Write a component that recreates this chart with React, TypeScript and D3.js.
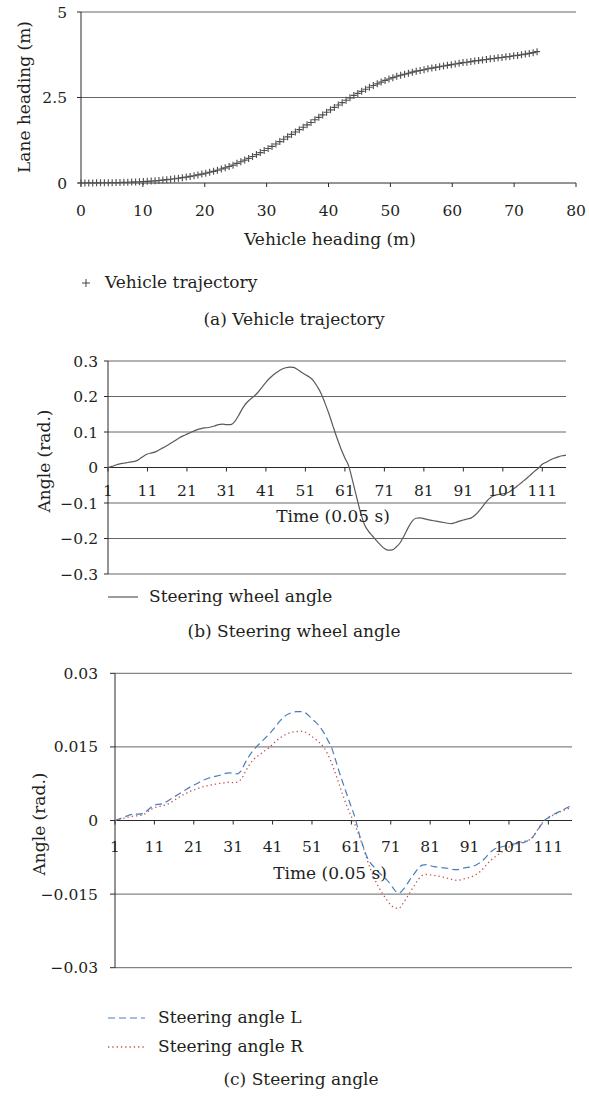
import React from "react";
import * as d3 from "d3";

// (a) vehicle trajectory: lateral vs longitudinal position (m)
const trajX = [
  0.0, 0.63, 1.26, 1.89, 2.52, 3.15, 3.78, 4.41, 5.04, 5.67, 6.3, 6.93, 7.56, 8.19, 8.82, 9.45,
  10.08, 10.71, 11.34, 11.97, 12.6, 13.23, 13.86, 14.49, 15.12, 15.75, 16.38, 17.01, 17.64, 18.27,
  18.9, 19.53, 20.16, 20.79, 21.42, 22.05, 22.68, 23.31, 23.94, 24.57, 25.2, 25.83, 26.46, 27.09,
  27.72, 28.35, 28.98, 29.61, 30.24, 30.87, 31.5, 32.13, 32.76, 33.39, 34.02, 34.65, 35.28, 35.91,
  36.54, 37.17, 37.8, 38.43, 39.06, 39.69, 40.32, 40.95, 41.58, 42.21, 42.84, 43.47, 44.1, 44.73,
  45.36, 45.99, 46.62, 47.25, 47.88, 48.51, 49.14, 49.77, 50.4, 51.03, 51.66, 52.29, 52.92, 53.55,
  54.18, 54.81, 55.44, 56.07, 56.7, 57.33, 57.96, 58.59, 59.22, 59.85, 60.48, 61.11, 61.74, 62.37,
  63.0, 63.63, 64.26, 64.89, 65.52, 66.15, 66.78, 67.41, 68.04, 68.67, 69.3, 69.93, 70.56, 71.19,
  71.82, 72.45, 73.08, 73.71,
];
const trajY = [
  0.0, 0.001, 0.002, 0.003, 0.004, 0.006, 0.007, 0.008, 0.01, 0.013, 0.016, 0.019, 0.023, 0.027,
  0.031, 0.036, 0.041, 0.048, 0.056, 0.064, 0.074, 0.085, 0.097, 0.11, 0.123, 0.138, 0.155, 0.173,
  0.192, 0.213, 0.236, 0.26, 0.285, 0.313, 0.342, 0.374, 0.408, 0.444, 0.482, 0.522, 0.575, 0.62,
  0.67, 0.72, 0.775, 0.83, 0.89, 0.95, 1.01, 1.07, 1.14, 1.21, 1.28, 1.35, 1.42, 1.49, 1.56, 1.63,
  1.7, 1.77, 1.85, 1.92, 1.99, 2.07, 2.14, 2.21, 2.28, 2.35, 2.42, 2.49, 2.56, 2.62, 2.68, 2.74,
  2.8, 2.85, 2.9, 2.95, 3.0, 3.04, 3.08, 3.12, 3.15, 3.18, 3.21, 3.24, 3.27, 3.29, 3.31, 3.34,
  3.36, 3.38, 3.4, 3.42, 3.44, 3.46, 3.48, 3.5, 3.52, 3.53, 3.55, 3.57, 3.58, 3.6, 3.61, 3.63,
  3.64, 3.66, 3.67, 3.69, 3.7, 3.72, 3.73, 3.75, 3.77, 3.79, 3.81, 3.84,
];

// (b) steering wheel angle (rad.), time steps 1..117
const wheelAngle = [
  0.0, 0.003, 0.007, 0.01, 0.012, 0.014, 0.016, 0.018, 0.024, 0.032, 0.038, 0.041, 0.044, 0.05,
  0.056, 0.062, 0.069, 0.076, 0.083, 0.089, 0.094, 0.099, 0.104, 0.108, 0.111, 0.112, 0.114, 0.117,
  0.121, 0.122, 0.121, 0.121, 0.128, 0.145, 0.165, 0.181, 0.192, 0.201, 0.212, 0.226, 0.24, 0.252,
  0.262, 0.27, 0.277, 0.281, 0.283, 0.282, 0.276, 0.268, 0.261, 0.255, 0.245, 0.228, 0.208, 0.18,
  0.15, 0.116, 0.083, 0.053, 0.027, 0.003, -0.04, -0.085, -0.128, -0.162, -0.18, -0.193, -0.206,
  -0.218, -0.228, -0.233, -0.232, -0.224, -0.212, -0.192, -0.17, -0.152, -0.143, -0.142, -0.144,
  -0.147, -0.149, -0.151, -0.153, -0.155, -0.157, -0.158, -0.155, -0.151, -0.148, -0.145, -0.142,
  -0.134, -0.122, -0.108, -0.094, -0.084, -0.078, -0.076, -0.074, -0.072, -0.066, -0.058, -0.049,
  -0.04, -0.031, -0.021, -0.011, -0.002, 0.009, 0.015, 0.021, 0.026, 0.03, 0.033, 0.035,
];

// (c) steering angle of left and right wheels (rad.)
const steerL = [
  0.0, 0.0003, 0.0006, 0.0009, 0.0012, 0.0013, 0.0013, 0.0014, 0.0019, 0.0026, 0.0031, 0.0033,
  0.0034, 0.0038, 0.0043, 0.0048, 0.0053, 0.0058, 0.0063, 0.0068, 0.0072, 0.0076, 0.0081, 0.0084,
  0.0087, 0.0089, 0.0091, 0.0093, 0.0096, 0.0097, 0.0096, 0.0095, 0.0101, 0.0117, 0.0131, 0.0142,
  0.0151, 0.0159, 0.0167, 0.0175, 0.0184, 0.0194, 0.0204, 0.0212, 0.0217, 0.022, 0.0222, 0.0222,
  0.0221, 0.0215, 0.0207, 0.02, 0.0191, 0.0179, 0.0164, 0.0148, 0.0123, 0.0097, 0.0073, 0.005,
  0.0027, 0.0004, -0.0028, -0.0053, -0.0075, -0.0088, -0.0097, -0.0106, -0.0114, -0.0121, -0.0131,
  -0.0142, -0.0148, -0.0142, -0.0131, -0.0119, -0.0108, -0.0097, -0.0091, -0.009, -0.0092, -0.0094,
  -0.0095, -0.0096, -0.0097, -0.0098, -0.01, -0.01, -0.0098, -0.0096, -0.0095, -0.0093, -0.0089,
  -0.0084, -0.0076, -0.0067, -0.006, -0.0056, -0.0054, -0.0052, -0.005, -0.0048, -0.0047, -0.0046,
  -0.0044, -0.004, -0.0034, -0.0023, -0.0011, 0.0, 0.0006, 0.0011, 0.0015, 0.0019, 0.0023, 0.0027,
  0.003,
];
const steerR = [
  0.0, 0.0002, 0.0004, 0.0006, 0.0008, 0.0009, 0.001, 0.0011, 0.0016, 0.0022, 0.0026, 0.0028,
  0.003, 0.0032, 0.0036, 0.0041, 0.0046, 0.0051, 0.0055, 0.0059, 0.0062, 0.0065, 0.0068, 0.007,
  0.0072, 0.0073, 0.0075, 0.0076, 0.0077, 0.0078, 0.0077, 0.0078, 0.0084, 0.0098, 0.0112, 0.0123,
  0.013, 0.0136, 0.0142, 0.0148, 0.0155, 0.0163, 0.0169, 0.0174, 0.0178, 0.018, 0.0181, 0.0182,
  0.0181, 0.0177, 0.0171, 0.0165, 0.0158, 0.0149, 0.0135, 0.0117, 0.0095, 0.0071, 0.0048, 0.0026,
  0.0008, -0.001, -0.0032, -0.0055, -0.008, -0.0102, -0.0121, -0.0137, -0.015, -0.0162, -0.0172,
  -0.0178, -0.0179, -0.017, -0.0158, -0.0145, -0.0132, -0.012, -0.0112, -0.011, -0.0111, -0.0112,
  -0.0113, -0.0115, -0.0117, -0.0119, -0.0121, -0.0122, -0.012, -0.0118, -0.0116, -0.0113, -0.0108,
  -0.0102, -0.0093, -0.0084, -0.0077, -0.0071, -0.0065, -0.0059, -0.0054, -0.005, -0.0047, -0.0044,
  -0.0042, -0.004, -0.0035, -0.0022, -0.001, 0.0, 0.0005, 0.001, 0.0014, 0.0018, 0.0021, 0.0024,
  0.0026,
];

const timeTicks = [1, 11, 21, 31, 41, 51, 61, 71, 81, 91, 101, 111];
const headingTicks = [0, 10, 20, 30, 40, 50, 60, 70, 80];
const laneTicks = [0, 2.5, 5];
const wheelTicks = [-0.3, -0.2, -0.1, 0, 0.1, 0.2, 0.3];
const steerTicks = [-0.03, -0.015, 0, 0.015, 0.03];

const FONT = "'DejaVu Serif', 'Liberation Serif', serif";
const TXT = "#231f20";
const GRID = "#666";
const AXIS = "#2a2a2a";
const TICK_SIZE = 15.5;
const LABEL_SIZE = 17;
const fmtNum = (v: number) => (v < 0 ? "\u2212" + String(-v) : String(v));

const Txt = (p: any) => (
  <text fontFamily={FONT} fontSize={p.size ?? LABEL_SIZE} fill={TXT} {...p}>
    {p.children}
  </text>
);

function YLabels({ ticks, y, x }: { ticks: number[]; y: any; x: number }) {
  return (
    <g>
      {ticks.map((t) => (
        <Txt key={t} x={x} y={y(t)} dy="0.36em" textAnchor="end" size={TICK_SIZE}>
          {fmtNum(t)}
        </Txt>
      ))}
    </g>
  );
}

function PanelA() {
  const x = d3.scaleLinear().domain([0, 80]).range([81, 576]);
  const y = d3.scaleLinear().domain([0, 5]).range([183, 12]);
  const plus = (cx: number, cy: number, a: number, b: number) =>
    `M${cx - a},${cy}H${cx + a}M${cx},${cy - b}V${cy + b}`;
  return (
    <g>
      {laneTicks.filter((t) => t !== 0).map((t) => (
        <line key={t} x1={x(0)} x2={x(80)} y1={y(t)} y2={y(t)} stroke={GRID} strokeWidth={1} />
      ))}
      <line x1={x(0)} x2={x(0)} y1={y(5)} y2={y(0)} stroke={AXIS} />
      {laneTicks.map((t) => (
        <line key={t} x1={x(0) - 4} x2={x(0)} y1={y(t)} y2={y(t)} stroke={AXIS} />
      ))}
      <line x1={x(0)} x2={x(80)} y1={y(0)} y2={y(0)} stroke={AXIS} />
      {headingTicks.map((t) => (
        <line key={t} x1={x(t)} x2={x(t)} y1={y(0)} y2={y(0) + 4} stroke={AXIS} />
      ))}
      <path
        d={trajX.map((v, i) => plus(x(v), y(trajY[i]), 3, 3.5)).join("")}
        stroke="#505050"
        strokeWidth={1.15}
        fill="none"
      />
      <YLabels ticks={laneTicks} y={y} x={67} />
      {headingTicks.map((t) => (
        <Txt key={t} x={x(t)} y={216} textAnchor="middle" size={TICK_SIZE}>
          {t}
        </Txt>
      ))}
      <Txt x={330} y={245} textAnchor="middle">Vehicle heading (m)</Txt>
      <Txt transform="translate(30,97) rotate(-90)" textAnchor="middle">Lane heading (m)</Txt>
      <path d={plus(86, 283, 4, 4)} stroke="#444" strokeWidth={1} />
      <Txt x={105} y={288}>Vehicle trajectory</Txt>
      <Txt x={294} y={325} textAnchor="middle">(a)  Vehicle trajectory</Txt>
    </g>
  );
}

function PanelB() {
  const x = d3.scaleLinear().domain([1, 117]).range([108, 566]);
  const y = d3.scaleLinear().domain([-0.3, 0.3]).range([574, 361]);
  const line = d3
    .line<number>()
    .x((_, i) => x(i + 1))
    .y((d) => y(d))
    .curve(d3.curveMonotoneX);
  return (
    <g>
      {wheelTicks.filter((t) => t !== 0).map((t) => (
        <line key={t} x1={x(1)} x2={x(117)} y1={y(t)} y2={y(t)} stroke={GRID} />
      ))}
      <line x1={x(1)} x2={x(1)} y1={y(0.3)} y2={y(-0.3)} stroke={AXIS} />
      {wheelTicks.map((t) => (
        <line key={t} x1={x(1) - 4} x2={x(1)} y1={y(t)} y2={y(t)} stroke={AXIS} />
      ))}
      <line x1={x(1)} x2={x(117)} y1={y(0)} y2={y(0)} stroke={AXIS} />
      {timeTicks.map((t) => (
        <line key={t} x1={x(t)} x2={x(t)} y1={y(0)} y2={y(0) + 4} stroke={AXIS} />
      ))}
      <path d={line(wheelAngle) ?? ""} fill="none" stroke="#5a5a5a" strokeWidth={1.2} />
      <YLabels ticks={wheelTicks} y={y} x={98} />
      {timeTicks.map((t) => (
        <Txt key={t} x={x(t)} y={496} textAnchor="middle" size={TICK_SIZE}>
          {t}
        </Txt>
      ))}
      <Txt x={333} y={522} textAnchor="middle">Time (0.05 s)</Txt>
      <Txt transform="translate(50,461) rotate(-90)" textAnchor="middle">Angle (rad.)</Txt>
      <line x1={108} x2={138} y1={597} y2={597} stroke="#5a5a5a" strokeWidth={1.2} />
      <Txt x={149} y={602}>Steering wheel angle</Txt>
      <Txt x={294} y={637} textAnchor="middle">(b)  Steering wheel angle</Txt>
    </g>
  );
}

function PanelC() {
  const x = d3.scaleLinear().domain([1, 117]).range([115, 572]);
  const y = d3.scaleLinear().domain([-0.03, 0.03]).range([967.7, 673.3]);
  const line = d3
    .line<number>()
    .x((_, i) => x(i + 1))
    .y((d) => y(d))
    .curve(d3.curveMonotoneX);
  return (
    <g>
      {steerTicks.filter((t) => t !== 0).map((t) => (
        <line key={t} x1={x(1)} x2={x(117)} y1={y(t)} y2={y(t)} stroke={GRID} />
      ))}
      <line x1={x(1)} x2={x(1)} y1={y(0.03)} y2={y(-0.03)} stroke={AXIS} />
      {steerTicks.map((t) => (
        <line key={t} x1={x(1) - 5} x2={x(1)} y1={y(t)} y2={y(t)} stroke={AXIS} />
      ))}
      <line x1={x(1)} x2={x(117)} y1={y(0)} y2={y(0)} stroke={AXIS} />
      {timeTicks.map((t) => (
        <line key={t} x1={x(t)} x2={x(t)} y1={y(0)} y2={y(0) + 4} stroke={AXIS} />
      ))}
      <path d={line(steerR) ?? ""} fill="none" stroke="#c0504d" strokeWidth={1.3} strokeDasharray="1.3 3" />
      <path d={line(steerL) ?? ""} fill="none" stroke="#4a7ebb" strokeWidth={1.2} strokeDasharray="7 4" />
      <YLabels ticks={steerTicks} y={y} x={98} />
      {timeTicks.map((t) => (
        <Txt key={t} x={x(t)} y={852} textAnchor="middle" size={TICK_SIZE}>
          {t}
        </Txt>
      ))}
      <Txt x={330} y={879} textAnchor="middle">Time (0.05 s)</Txt>
      <Txt transform="translate(44.5,824) rotate(-90)" textAnchor="middle">Angle (rad.)</Txt>
      <line x1={108} x2={145} y1={1018} y2={1018} stroke="#4a7ebb" strokeWidth={1.2} strokeDasharray="7 4" />
      <Txt x={158} y={1023}>Steering angle L</Txt>
      <line x1={108} x2={145} y1={1047} y2={1047} stroke="#c0504d" strokeWidth={1.3} strokeDasharray="1.3 3" />
      <Txt x={158} y={1052}>Steering angle R</Txt>
      <Txt x={301} y={1085} textAnchor="middle">(c)  Steering angle</Txt>
    </g>
  );
}

export default function App() {
  return (
    <div style={{ position: "absolute", left: 0, top: 0, width: 589, height: 1097, background: "#fff" }}>
      <svg width={589} height={1097} style={{ display: "block" }}>
        <rect width={589} height={1097} fill="#fff" />
        <PanelA />
        <PanelB />
        <PanelC />
      </svg>
    </div>
  );
}
